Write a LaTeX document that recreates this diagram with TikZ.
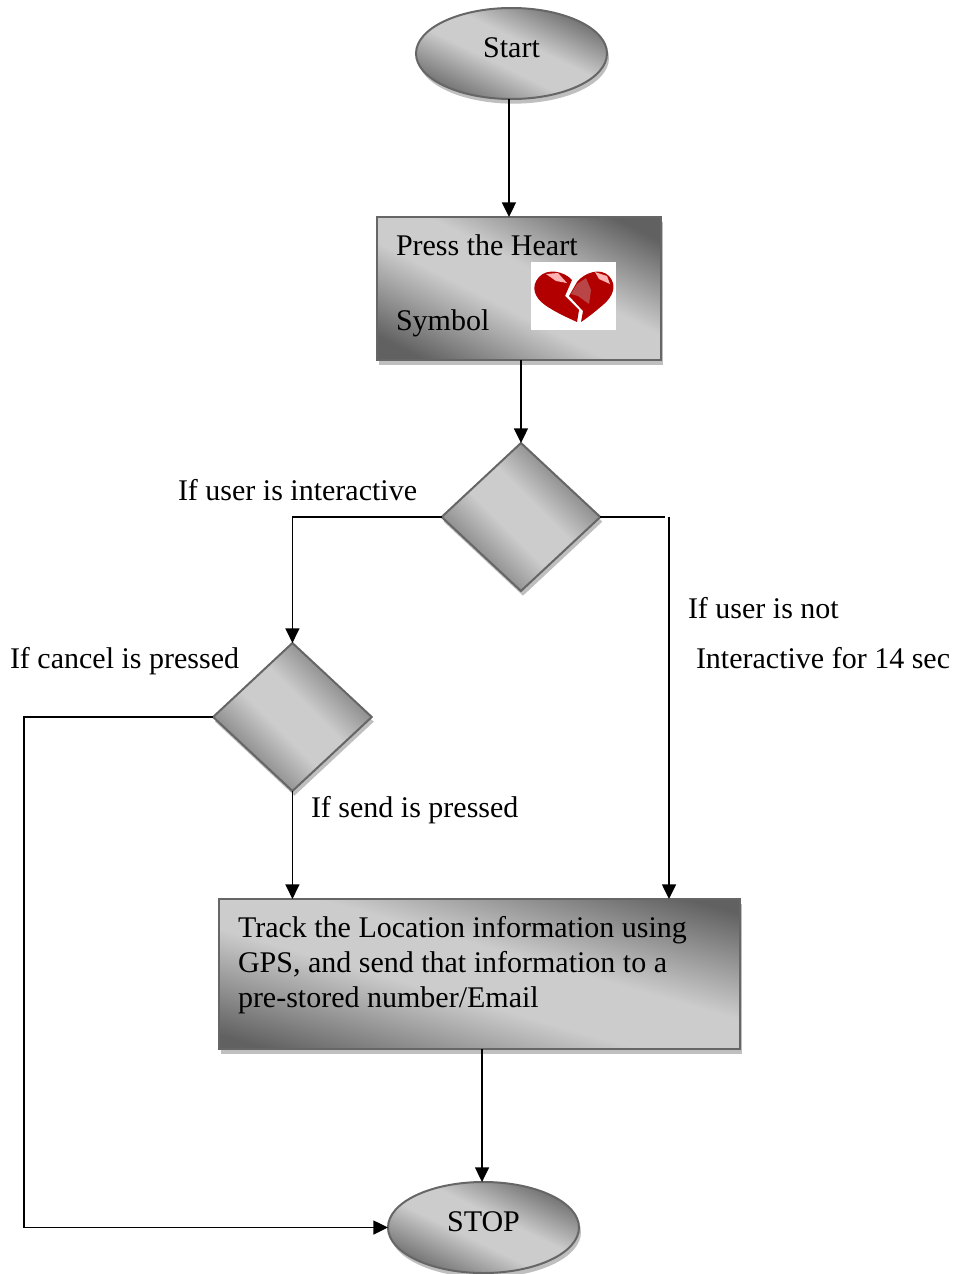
\documentclass[tikz,border=0pt]{standalone}
\usepackage{fontspec}
\setmainfont{Liberation Serif}
\usetikzlibrary{arrows.meta,positioning,shadows,shapes.geometric}
\pgfdeclareverticalshading{flowshade}{100bp}{color(0bp)=(black!62); color(22bp)=(black!62); color(44bp)=(black!20); color(56bp)=(black!20); color(78bp)=(black!62); color(100bp)=(black!62)}

\begin{document}
\begin{tikzpicture}[x=0.75pt,y=-0.75pt,line width=1.1pt]
	% Styles for the flow chart; sizes are given for each shape
	\tikzset{
		>={Triangle[length=11pt,width=10.5pt]}, % solid arrow heads
		flowshape/.style={draw=black!60, line width=1.5pt, inner sep=0pt, outer sep=0pt,
			shading=flowshade, shading angle=-45,
			drop shadow={shadow xshift=1.5pt, shadow yshift=-3.5pt, fill=black!25, opacity=1}},
		flowellipse/.style={flowshape, ellipse, shading angle=-26, minimum width=143.25pt, minimum height=68.25pt},
		flowdiamond/.style={flowshape, diamond, minimum width=119pt, minimum height=111pt},
		flowtext/.style={anchor=base west, inner sep=0pt, outer sep=0pt, font=\fontsize{22.5}{26.25}\selectfont},
	}
	\useasboundingbox (0,0) rectangle (953,1274);
	% The shapes, each one placed relative to the one before
	\node[flowellipse, label={[yshift=4.5pt, font=\fontsize{22.5}{26.25}\selectfont]center:Start}] (start) at (511.5,53.5) {};
	\node[flowshape, shading angle=-27, below=88.5pt of start, xshift=5.6pt, minimum width=213pt, minimum height=107.25pt] (press) {};
	\node[flowdiamond, below=62.25pt of press, xshift=1.5pt] (ask) {};
	\node[flowdiamond, below=39pt of ask, xshift=-171.4pt] (choice) {};
	\node[flowshape, shading angle=-16, below=81pt of choice, xshift=140.3pt, minimum width=390.75pt, minimum height=112.5pt] (track) {};
	\node[flowellipse, below=99.75pt of track, xshift=3pt, label={[yshift=4.5pt, font=\fontsize{22.5}{26.25}\selectfont]center:STOP}] (stop) {};
	% Text inside the boxes
	\node[flowtext] (presstop) at (396,255) {Press the Heart};
	\node[flowtext] (pressbottom) at (396,330) {Symbol};
	\node[flowtext, align=left, anchor=north west] (tracktext) at (238,916) {Track the Location information using\\GPS, and send that information to a\\pre-stored number/Email};
	% The heart picture
	\node[fill=white, inner sep=0pt, minimum width=63.75pt, minimum height=51pt] (heartback) at (573.5,296) {};
	\fill[red!70!black] (572,280) .. controls (564,271) and (547,268) .. (539,277) .. controls (530,287) and (535,298) .. (545,305) .. controls (555,312) and (566,317) .. (577,322) -- (579,310) -- (565,296) -- cycle;
	\fill[red!70!black] (577,282) .. controls (584,273) and (600,267) .. (609,276) .. controls (618,286) and (612,297) .. (604,304) .. controls (597,310) and (590,316) .. (581,322) -- (583,311) -- (569,296) -- cycle;
	\fill[red!45!gray] (577,284) -- (586,278) -- (591,290) -- (589,304) -- (578,296) -- (571,294) -- cycle;
	\fill[white!70!red] (546,274) -- (558,273) -- (567,283) -- (556,281) -- cycle;
	\fill[white!70!red] (595,272) -- (607,276) -- (610,284) -- (599,279) -- cycle;
	% Text beside the connectors
	\node[flowtext] (interactive) at (178,500) {If user is interactive};
	\node[flowtext] (cancel) at (10,668) {If cancel is pressed};
	\node[flowtext] (send) at (311,817) {If send is pressed};
	\node[flowtext] (notuser) at (688,618) {If user is not};
	\node[flowtext] (notlong) at (696,668) {Interactive for 14 sec};
	% The connectors; the line on the right has a small gap at its corner
	\coordinate (rightend) at (665,518);
	\coordinate (rightstart) at (669,518);
	\coordinate (leftcorner) at (24,1227.5);
	\draw[->] ([xshift=-1.9pt]start.south) -- ([xshift=-1.9pt]start.south |- press.north);
	\draw[->] ([xshift=1.5pt]press.south) -- (ask.north);
	\draw[->] (ask.west) -| (choice.north);
	\draw (ask.east) -- (ask.east -| rightend);
	\draw[->] (rightstart |- ask.east) -- (rightstart |- track.north);
	\draw[->] (choice.south) -- (choice.south |- track.north);
	\draw[->] (choice.west) -| (leftcorner) -- (stop.west);
	\draw[->] ([xshift=1.9pt]track.south) -- ([xshift=1.9pt]track.south |- stop.north);
\end{tikzpicture}
\end{document}
